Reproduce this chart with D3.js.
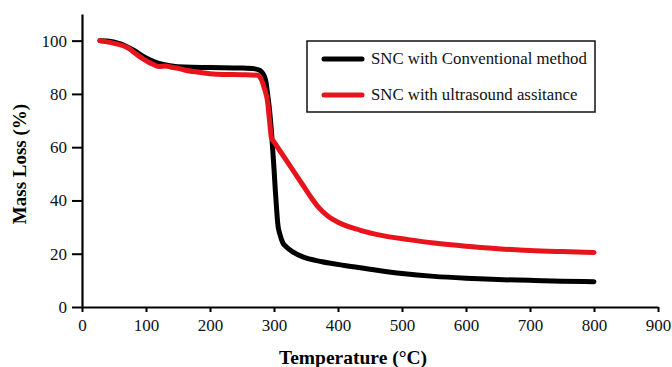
<!DOCTYPE html>
<html>
<head>
<meta charset="utf-8">
<script src="https://cdn.jsdelivr.net/npm/d3@7"></script>
<style>
  body { margin: 0; background: #fff; }
  #container { width: 672px; height: 367px; }
  text { font-family: "Liberation Serif", "Times New Roman", serif; }
</style>
</head>
<body>
<div id="container"></div>
<script>
const width = 672;
const height = 367;

// TGA curves: [temperature °C, mass %]
const conventional = [[28,100],[40,99.9],[60,98.8],[80,96.5],[100,93.5],[120,91.5],[140,90.5],[160,90.1],[200,89.9],[250,89.7],[270,89.4],[278,88.8],[283,87.5],[287,85],[290,80],[293,74],[296,66],[298,59],[300,52],[302,44],[304,37],[306,31],[309,27.5],[314,24],[319,22.6],[330,20.6],[345,18.8],[375,17],[410,15.6],[450,14.2],[500,12.6],[550,11.5],[600,10.8],[650,10.3],[700,10],[750,9.7],[800,9.5]];
const ultrasound = [[28,100],[50,99],[70,97.5],[90,94],[110,91.2],[120,90.3],[130,90.5],[140,90],[150,89.6],[160,89],[180,88.2],[200,87.6],[220,87.3],[250,87.2],[275,87],[280,85.5],[285,82],[290,77],[293,70],[296,63.5],[300,62],[315,56.6],[330,51.2],[345,45.8],[356,41.8],[370,37.3],[385,34],[400,31.8],[435,28.8],[470,26.8],[510,25.3],[550,24],[600,22.8],[650,21.9],[700,21.2],[750,20.8],[800,20.5]];

const seriesNames = ["SNC with Conventional method", "SNC with ultrasound assitance"];
const seriesColors = ["#000000", "#e8141c"];
const xTicks = [0,100,200,300,400,500,600,700,800,900];
const yTicks = [0,20,40,60,80,100];

const margin = {top: 14, right: 14, bottom: 60, left: 82};

const svg = d3.create("svg")
    .attr("width", width)
    .attr("height", height)
    .attr("viewBox", `0 0 ${width} ${height}`);

const x = d3.scaleLinear().domain([0, 900]).range([margin.left, width - margin.right]);
const y = d3.scaleLinear().domain([0, 110]).range([height - margin.bottom, margin.top]);

// x axis, minor ticks every 50
const xAxis = svg.append("g").attr("transform", `translate(0,${y(0)})`);
xAxis.call(d3.axisBottom(x).tickValues(d3.range(0, 901, 50)).tickSize(4).tickFormat(""));
xAxis.call(d3.axisBottom(x).tickValues(xTicks).tickSize(5).tickSizeOuter(0).tickPadding(7).tickFormat(d3.format("d")));
xAxis.selectAll(".domain").attr("stroke-width", 2.2);
xAxis.selectAll(".tick line").attr("stroke-width", 2);
xAxis.selectAll("text").attr("font-size", 17).attr("fill", "#111");

// y axis, minor ticks every 10
const yAxis = svg.append("g").attr("transform", `translate(${x(0)},0)`);
yAxis.call(d3.axisLeft(y).tickValues(d3.range(0, 111, 10)).tickSize(5).tickFormat(""));
yAxis.call(d3.axisLeft(y).tickValues(yTicks).tickSize(10).tickSizeOuter(0).tickPadding(5).tickFormat(d3.format("d")));
yAxis.selectAll(".domain").attr("stroke-width", 2.2);
yAxis.selectAll(".tick line").attr("stroke-width", 2);
yAxis.selectAll("text").attr("font-size", 17).attr("fill", "#111");

// axis titles
svg.append("text")
    .attr("x", 353).attr("y", 364)
    .attr("text-anchor", "middle")
    .attr("font-size", 19.5).attr("font-weight", "bold")
    .text("Temperature (°C)");

svg.append("text")
    .attr("transform", "translate(26,164) rotate(-90)")
    .attr("text-anchor", "middle")
    .attr("font-size", 19).attr("font-weight", "bold")
    .text("Mass Loss (%)");

// curves
const line = d3.line().x(d => x(d[0])).y(d => y(d[1])).curve(d3.curveMonotoneX);
[conventional, ultrasound].forEach((data, i) => {
    svg.append("path")
        .datum(data)
        .attr("fill", "none")
        .attr("stroke", seriesColors[i])
        .attr("stroke-width", 5)
        .attr("stroke-linejoin", "round")
        .attr("stroke-linecap", "round")
        .attr("d", line);
});

// legend
const legend = svg.append("g");
legend.append("rect")
    .attr("x", 307).attr("y", 41).attr("width", 288).attr("height", 71)
    .attr("fill", "#fff").attr("stroke", "#111").attr("stroke-width", 1.5);
seriesNames.forEach((name, i) => {
    const ly = 59 + i * 36;
    legend.append("line")
        .attr("x1", 324).attr("x2", 362).attr("y1", ly).attr("y2", ly)
        .attr("stroke", seriesColors[i]).attr("stroke-width", 5).attr("stroke-linecap", "round");
    legend.append("text")
        .attr("x", 371).attr("y", ly + 5)
        .attr("font-size", 16.8).attr("fill", "#111")
        .text(name);
});

document.getElementById("container").append(svg.node());
</script>
</body>
</html>
